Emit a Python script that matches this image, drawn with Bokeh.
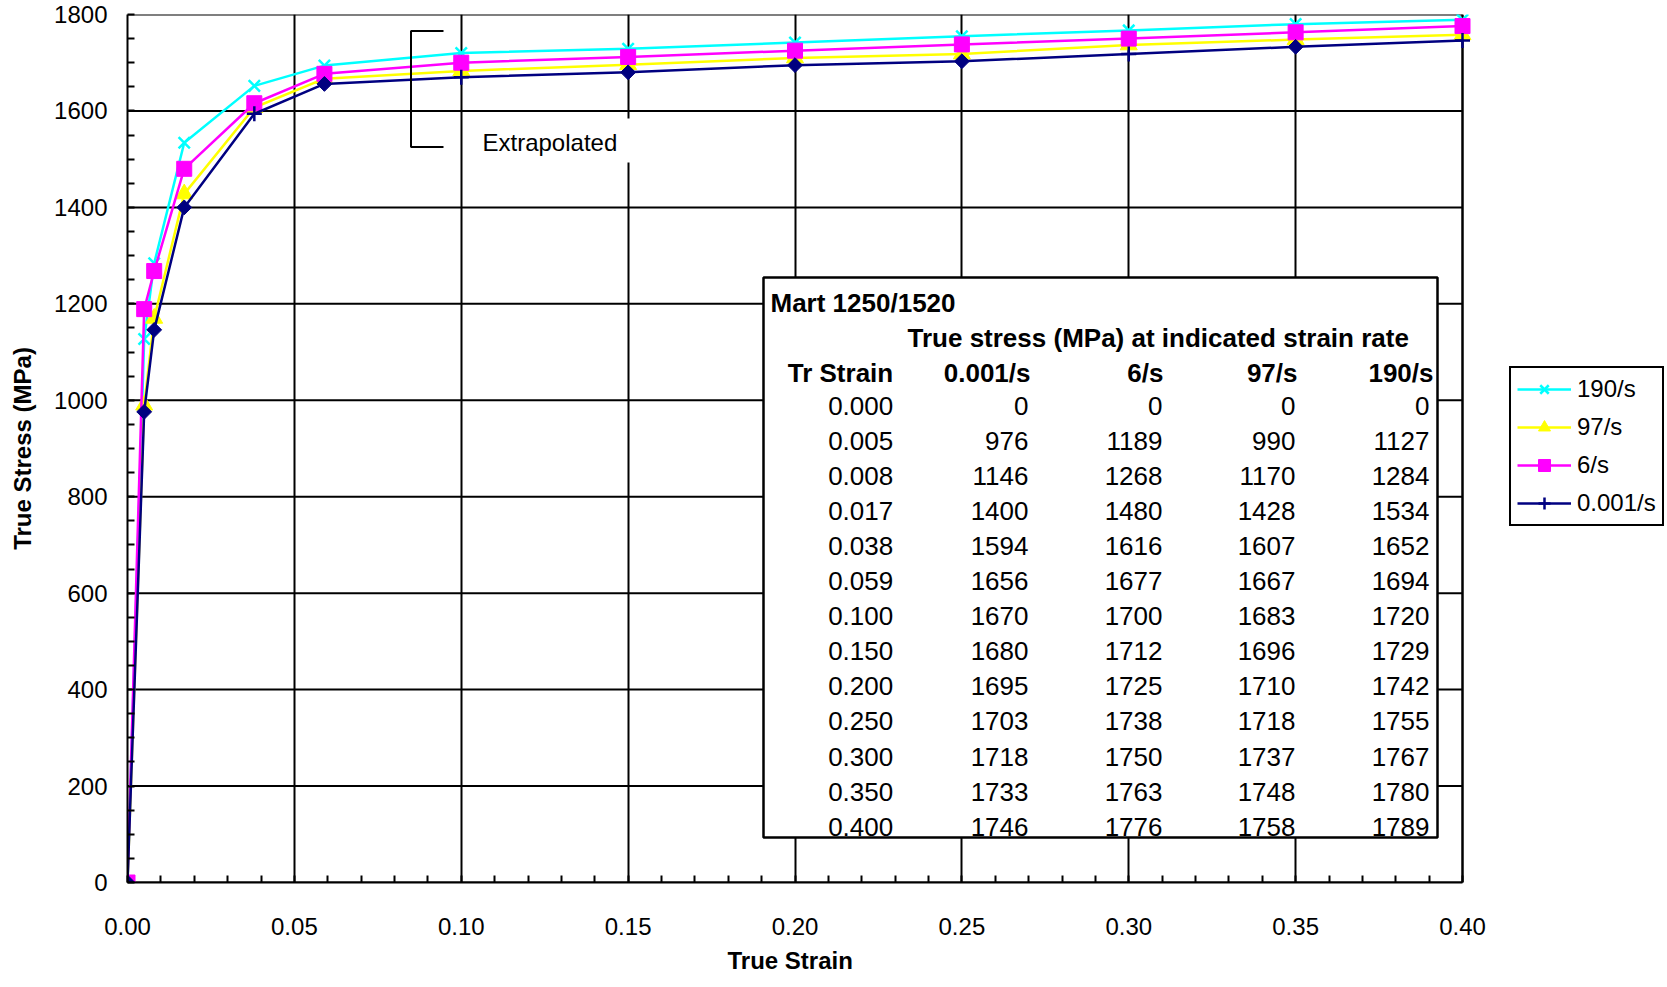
import math
from bokeh.plotting import figure
from bokeh.models import (Range1d, SingleIntervalTicker, NumeralTickFormatter,
                          Legend, LegendItem, Title)
from bokeh.embed import file_html
from bokeh.resources import INLINE
from bokeh.core.properties import value

# ---------------- data ----------------
strain = [0.000, 0.005, 0.008, 0.017, 0.038, 0.059, 0.100, 0.150, 0.200,
          0.250, 0.300, 0.350, 0.400]
rate_labels = ["0.001/s", "6/s", "97/s", "190/s"]
stress_0001 = [0, 976, 1146, 1400, 1594, 1656, 1670, 1680, 1695, 1703, 1718, 1733, 1746]
stress_6 = [0, 1189, 1268, 1480, 1616, 1677, 1700, 1712, 1725, 1738, 1750, 1763, 1776]
stress_97 = [0, 990, 1170, 1428, 1607, 1667, 1683, 1696, 1710, 1718, 1737, 1748, 1758]
stress_190 = [0, 1127, 1284, 1534, 1652, 1694, 1720, 1729, 1742, 1755, 1767, 1780, 1789]
slow_marker = ["diamond", "diamond", "diamond", "diamond", "cross", "diamond", "cross",
               "diamond", "diamond", "diamond", "cross", "diamond", "cross"]
y_ticks = [0, 200, 400, 600, 800, 1000, 1200, 1400, 1600, 1800]
table_title = "Mart 1250/1520"
table_subtitle = "True stress (MPa) at indicated strain rate"
table_first_header = "Tr Strain"
note_text = "Extrapolated"
x_title = "True Strain"
y_title = "True Stress (MPa)"

# ---------------- layout ----------------
W, H = 1667, 987
FL, FR, FT, FB = 127, 1462, 14, 882   # plot area (0..0.4, 0..1800) in pixels
XMAX, YMAX = 0.4, 1800
FONT = "Liberation Sans"


def xd(px):
    return (px - FL) / (FR - FL) * XMAX


def yd(py):
    return (FB - py) / (FB - FT) * YMAX


# the frame spans to the right edge of the page so the legend can sit there
p = figure(width=W, height=H, output_backend="svg", toolbar_location=None,
           x_range=Range1d(0, xd(W)), y_range=Range1d(0, YMAX),
           min_border_left=FL, min_border_right=0,
           min_border_top=FT, min_border_bottom=H - FB)
p.background_fill_color = "white"
p.border_fill_color = "white"
p.outline_line_color = None

p.xaxis.ticker = SingleIntervalTicker(interval=0.05, num_minor_ticks=5)
p.yaxis.ticker = SingleIntervalTicker(interval=200, num_minor_ticks=4)
p.xaxis.bounds = (0, XMAX)
p.xaxis.formatter = NumeralTickFormatter(format="0.00")
p.yaxis.formatter = NumeralTickFormatter(format="0")
p.xgrid.grid_line_color = "black"
p.xgrid.grid_line_width = 2
p.ygrid.grid_line_color = None
for ax in (p.xaxis, p.yaxis):
    ax.axis_line_color = "black"
    ax.axis_line_width = 2
    ax.major_tick_in = 0
    ax.major_tick_out = 0
    ax.minor_tick_in = 7
    ax.minor_tick_out = 0
    ax.minor_tick_line_color = "black"
    ax.minor_tick_line_width = 2
    ax.major_label_text_font = FONT
    ax.major_label_text_font_size = "24px"
    ax.major_label_text_color = "black"
    ax.axis_label_text_font = FONT
    ax.axis_label_text_font_size = "24px"
    ax.axis_label_text_font_style = "bold"
    ax.axis_label_text_color = "black"
p.yaxis.axis_label = y_title
p.xaxis.major_label_standoff = 35
p.yaxis.major_label_standoff = 20
p.yaxis.axis_label_standoff = 15

# x-axis title, centred under the plot area (0..0.4) rather than the whole frame
xt = Title(text=x_title, align="left", offset=600,
           text_font=FONT, text_font_size="24px", text_font_style="bold",
           text_color="black", standoff=15)
p.add_layout(xt, "below")

# horizontal grid lines and plot-area border, limited to the plot area
p.segment(x0=[0] * len(y_ticks), x1=[XMAX] * len(y_ticks), y0=y_ticks, y1=y_ticks,
          line_color="black", line_width=2)
p.segment(x0=[XMAX], x1=[XMAX], y0=[0], y1=[YMAX], line_color="black", line_width=2)

# ---------------- series ----------------
LW = 2.5
l190 = p.line(strain, stress_190, line_color="#00FFFF", line_width=LW)
m190 = p.scatter(strain, stress_190, marker="x", size=16, line_color="#00FFFF", line_width=2.5)
l97 = p.line(strain, stress_97, line_color="#FFFF00", line_width=LW)
m97 = p.scatter(strain, stress_97, marker="triangle", size=17, fill_color="#FFFF00",
                line_color="#FFFF00")
l6 = p.line(strain, stress_6, line_color="#FF00FF", line_width=LW)
m6 = p.scatter(strain, stress_6, marker="square", size=15, fill_color="#FF00FF",
               line_color="#FF00FF")
l1 = p.line(strain, stress_0001, line_color="#000080", line_width=LW)
dx = [x for x, m in zip(strain, slow_marker) if m == "diamond"]
dy = [y for y, m in zip(stress_0001, slow_marker) if m == "diamond"]
cx = [x for x, m in zip(strain, slow_marker) if m == "cross"]
cy = [y for y, m in zip(stress_0001, slow_marker) if m == "cross"]
p.scatter(dx, dy, marker="square", angle=math.pi / 4, size=10.5,
          fill_color="#000080", line_color="#000080")
m1 = p.scatter(cx, cy, marker="cross", size=15, line_color="#000080", line_width=2.5)

# ---------------- "Extrapolated" note ----------------
p.quad(left=[xd(470)], right=[xd(633)], top=[yd(118)], bottom=[yd(162)],
       fill_color="white", line_color=None)
p.line([xd(443), xd(410.5), xd(410.5), xd(443)], [yd(30.5), yd(30.5), yd(146.5), yd(146.5)],
       line_color="black", line_width=2)
p.text(x=[xd(482)], y=[yd(141.5)], text=[note_text], text_font=value(FONT),
       text_font_size="24px", text_color="black", text_align="left",
       text_baseline="middle")

# ---------------- data table ----------------
p.quad(left=[xd(763)], right=[xd(1437)], top=[yd(277)], bottom=[yd(837)],
       fill_color="white", line_color="black", line_width=2.5)
p.text(x=[xd(770)], y=[yd(302.5)], text=[table_title], text_font=value(FONT),
       text_font_size="26px", text_font_style="bold", text_color="black",
       text_align="left", text_baseline="middle")
p.text(x=[xd(907)], y=[yd(337.5)], text=[table_subtitle], text_font=value(FONT),
       text_font_size="26px", text_font_style="bold", text_color="black",
       text_align="left", text_baseline="middle")
head_right = [892.7, 1030, 1163, 1297, 1433]
val_right = [892.7, 1028, 1162, 1295, 1429]
headers = [table_first_header] + rate_labels
p.text(x=[xd(r) for r in head_right], y=[yd(372.5)] * 5, text=headers,
       text_font=value(FONT), text_font_size="26px", text_font_style="bold",
       text_color="black", text_align="right", text_baseline="middle")
columns = [["%.3f" % s for s in strain],
           [str(v) for v in stress_0001],
           [str(v) for v in stress_6],
           [str(v) for v in stress_97],
           [str(v) for v in stress_190]]
for col, r in zip(columns, val_right):
    ys = [yd(405.7 + 35.03 * i) for i in range(len(col))]
    p.text(x=[xd(r)] * len(col), y=ys, text=col, text_font=value(FONT),
           text_font_size="26px", text_color="black", text_align="right",
           text_baseline="middle")

# ---------------- legend ----------------
legend = Legend(items=[LegendItem(label=rate_labels[3], renderers=[l190, m190]),
                       LegendItem(label=rate_labels[2], renderers=[l97, m97]),
                       LegendItem(label=rate_labels[1], renderers=[l6, m6]),
                       LegendItem(label=rate_labels[0], renderers=[l1, m1])],
                location=(1509 - FL, FB - 526))
legend.border_line_color = "black"
legend.border_line_alpha = 1
legend.border_line_width = 2
legend.background_fill_color = "white"
legend.background_fill_alpha = 1
legend.label_text_font = FONT
legend.label_text_font_size = "24px"
legend.label_text_color = "black"
legend.glyph_width = 54
legend.glyph_height = 30
legend.label_height = 30
legend.label_standoff = 6
legend.padding = 6
legend.spacing = 8
legend.margin = 0
p.add_layout(legend, "center")

open("out.html", "w").write(file_html(p, INLINE))
